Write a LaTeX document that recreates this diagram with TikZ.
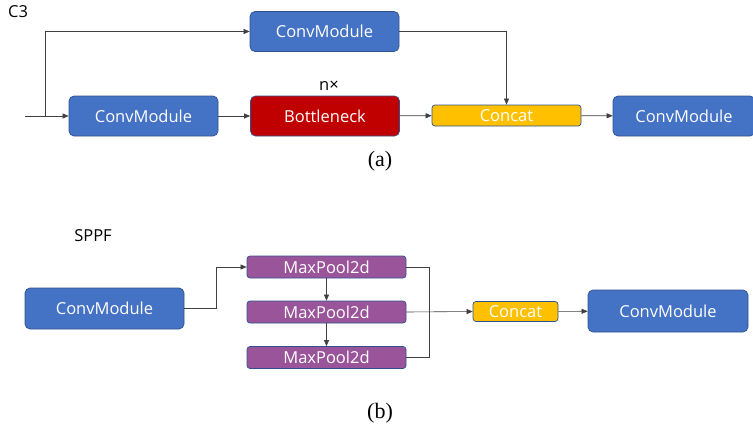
\documentclass[tikz,border=0pt]{standalone}
\usepackage{fontspec}
\setmainfont{Open Sans}
\newfontfamily\serifcap{Liberation Serif}
\usetikzlibrary{arrows.meta}
\definecolor{boxblue}{HTML}{4472C4}
\definecolor{edgeblue}{HTML}{2F528F}
\definecolor{boxred}{HTML}{C00000}
\definecolor{boxyellow}{HTML}{FFC000}
\definecolor{boxpurple}{HTML}{9A549A}
\tikzset{
  modbox/.style={draw=edgeblue, line width=0.7pt, rounded corners=5pt, text=white,
    font=\fontsize{16.5}{19}\selectfont, inner sep=0pt},
  bigbox/.style={modbox, minimum width=149pt, minimum height=40pt},
  conv/.style={bigbox, fill=boxblue},
  bott/.style={bigbox, fill=boxred},
  catbox/.style={modbox, fill=boxyellow, rounded corners=3pt, minimum height=21pt},
  poolbox/.style={modbox, fill=boxpurple, rounded corners=3pt, minimum width=159pt, minimum height=22pt},
  lbl/.style={font=\fontsize{16.5}{19}\selectfont, inner sep=0pt},
  figcaption/.style={font=\serifcap\fontsize{22}{24}\selectfont, inner sep=0pt},
  conn/.style={draw=black!75, line width=0.6pt},
  arr/.style={conn, -{Triangle[length=6pt,width=5pt]}},
}
\begin{document}
\begin{tikzpicture}[x=1pt,y=-1pt]
\useasboundingbox (0,0) rectangle (753,432);
% ---- (a) C3 ----
\node[lbl, anchor=west] (c3lbl) at (8,12) {C3};
\node[conv] (top) at (324.5,31.5) {ConvModule};
\node[conv] (cm1) at (143.5,116) {ConvModule};
\node[bott] (bn) at (325,116) {Bottleneck};
\node[lbl] (nx) at (329,86) {n×};
\node[catbox, minimum width=149pt] (cat) at (506.5,115.5) {Concat};
\node[conv, minimum width=142pt] (cm3) at (684,116) {ConvModule};
\node[figcaption] (capa) at (380,161) {(a)};
\coordinate (in) at (25,116);
\coordinate (br) at (45,116);
\draw[arr] (in) -- (cm1.west);
\draw[arr] (br) |- (top.west);
\draw[arr] (cm1) -- (bn);
\draw[arr] (bn) -- (cat);
\draw[arr] (top.east) -| (cat.north);
\draw[arr] (cat) -- (cm3);
% ---- (b) SPPF ----
\node[lbl] (sppf) at (93,236) {SPPF};
\node[conv, minimum width=159pt, minimum height=41pt] (sc1) at (104.5,308.5) {ConvModule};
\node[poolbox] (mp1) at (326.5,267) {MaxPool2d};
\node[poolbox] (mp2) at (326.5,312) {MaxPool2d};
\node[poolbox] (mp3) at (326.5,357.5) {MaxPool2d};
\node[catbox, minimum width=85pt, minimum height=20pt] (scat) at (515.5,311.5) {Concat};
\node[conv, minimum width=160pt, minimum height=42pt] (sc2) at (668,311) {ConvModule};
\node[figcaption] (capb) at (380,413) {(b)};
\draw[arr] (sc1.east) -- ++(32,0) |- (mp1.west);
\draw[arr] (mp1) -- (mp2);
\draw[arr] (mp2) -- (mp3);
\draw[conn] (mp1.east) -- ++(23,0) |- (mp3.east);
\draw[arr] (mp2.east) -- (scat.west);
\draw[arr] (scat) -- (sc2);
\end{tikzpicture}
\end{document}
